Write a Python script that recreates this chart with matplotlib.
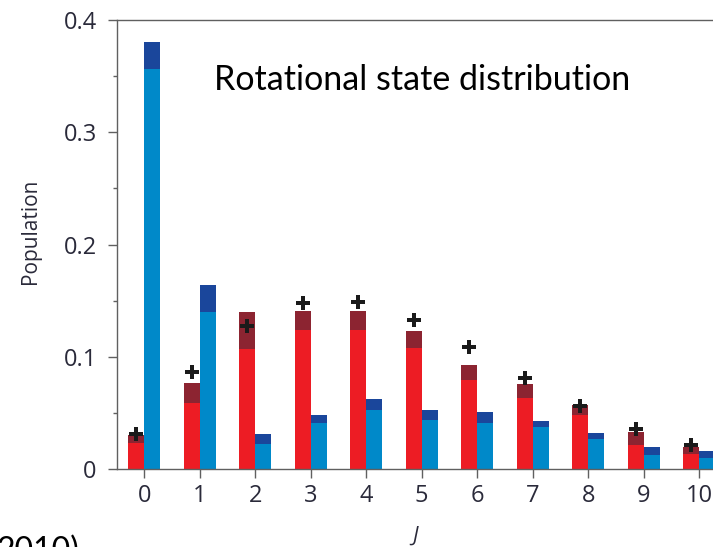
import matplotlib.pyplot as plt
import numpy as np

# values (population vs rotational level J)
J = np.arange(11)
red_total = [0.030, 0.077, 0.140, 0.141, 0.1405, 0.123, 0.093, 0.076, 0.057, 0.033, 0.020]
red_light = [0.0235, 0.059, 0.107, 0.124, 0.124, 0.108, 0.079, 0.063, 0.048, 0.021, 0.013]
blue_total = [0.380, 0.164, 0.0316, 0.048, 0.062, 0.053, 0.0506, 0.0426, 0.0324, 0.020, 0.0164]
blue_light = [0.356, 0.140, 0.0223, 0.041, 0.053, 0.044, 0.041, 0.037, 0.0265, 0.0125, 0.010]
theory = [0.031, 0.086, 0.127, 0.148, 0.149, 0.133, 0.109, 0.0815, 0.0565, 0.036, 0.021]

RED, DRED = '#ED1C24', '#8C2431'
BLUE, DBLUE = '#0089C9', '#1A469B'
AXC = '#606060'
TXT = '#2a2a3a'

plt.rcParams['font.family'] = ['Open Sans', 'DejaVu Sans']

fig = plt.figure(figsize=(7.13, 5.47), dpi=100)
ax = fig.add_axes([117 / 713, 78 / 547, (713 - 117) / 713, 449 / 547])

w = 0.29
rl = np.array(red_light)
rt = np.array(red_total)
bl = np.array(blue_light)
bt = np.array(blue_total)
ax.bar(J - w / 2, rl, width=w, color=RED, linewidth=0)
ax.bar(J - w / 2, rt - rl, bottom=rl, width=w, color=DRED, linewidth=0)
ax.bar(J + w / 2, bl, width=w, color=BLUE, linewidth=0)
ax.bar(J + w / 2, bt - bl, bottom=bl, width=w, color=DBLUE, linewidth=0)

ax.plot(J - 0.14, theory, linestyle='none', marker='P', color='#1a1a1a',
        markersize=10, markeredgewidth=0, zorder=5)

ax.set_xlim(-0.49, 10.25)
ax.set_ylim(0, 0.4)
ax.set_xticks(J)
ax.set_yticks([0, 0.1, 0.2, 0.3, 0.4])
ax.set_yticklabels(['0', '0.1', '0.2', '0.3', '0.4'])
ax.set_yticks([0.05, 0.15, 0.25, 0.35], minor=True)

for s in ['left', 'bottom', 'top']:
    ax.spines[s].set_color(AXC)
    ax.spines[s].set_linewidth(1.0)
ax.spines['right'].set_visible(False)

ax.tick_params(axis='both', which='major', direction='out', length=6.5, width=1,
               color=AXC, labelsize=17, labelcolor=TXT)
ax.tick_params(axis='y', which='major', pad=8)
ax.tick_params(axis='x', which='major', pad=4)
ax.tick_params(axis='y', which='minor', direction='out', length=3, width=1, color=AXC)

ax.set_ylabel('Population', fontsize=15, color=TXT)
ax.yaxis.set_label_coords(-0.128, 0.53)
ax.set_xlabel('J', fontsize=15, color=TXT, style='italic', labelpad=13)

ax.text(0.512, 0.866, 'Rotational state distribution', transform=ax.transAxes,
        fontsize=24.5, color='black', ha='center', va='center',
        family=['Lato', 'DejaVu Sans'])

fig.text(-0.005, -0.035, '2010)', fontsize=23, color='black', ha='left', va='bottom',
         family=['Lato', 'DejaVu Sans'])

fig.savefig('out.png', dpi=100)
